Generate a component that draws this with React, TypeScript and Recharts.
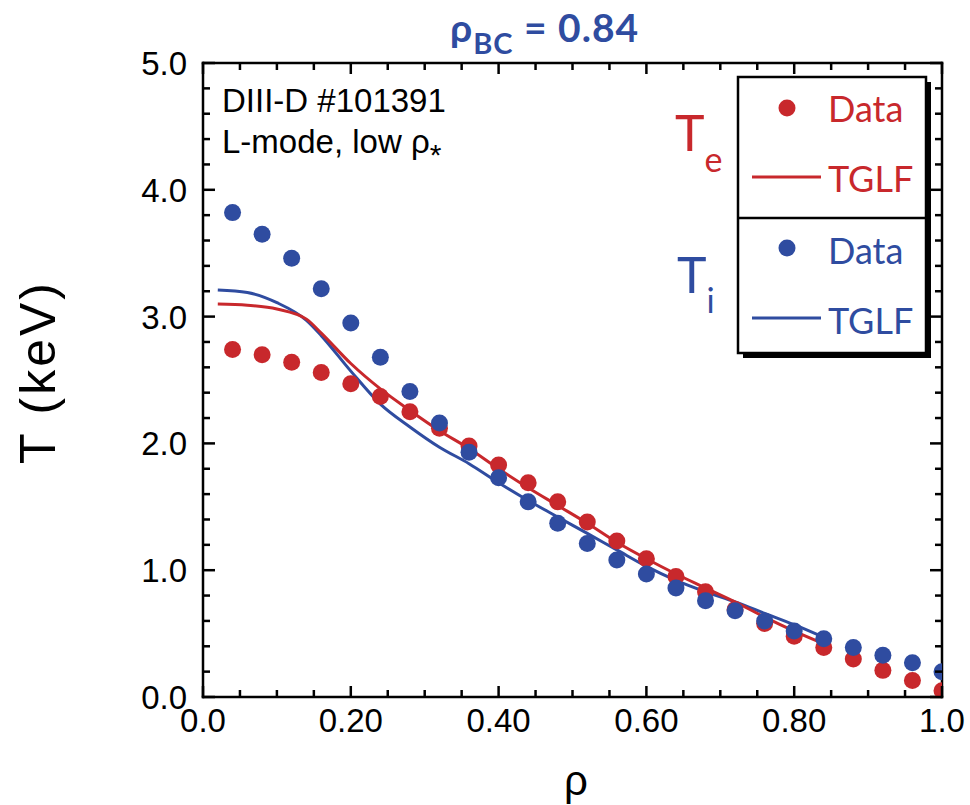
import { ComposedChart, XAxis, YAxis, Line, Scatter } from "recharts";

const RED = "#c8282c";
const BLUE = "#2f4ca0";
const SANS = "'Liberation Sans', Arial, Helvetica, sans-serif";
const HUM = "Lato, 'Open Sans', sans-serif";

// measured profiles
const rhoData = [0.04, 0.08, 0.12, 0.16, 0.2, 0.24, 0.28, 0.32, 0.36, 0.4, 0.44, 0.48, 0.52, 0.56, 0.6, 0.64, 0.68, 0.72, 0.76, 0.8, 0.84, 0.88, 0.92, 0.96, 1.0];
const teData = [2.74, 2.7, 2.64, 2.56, 2.47, 2.37, 2.25, 2.12, 1.98, 1.83, 1.69, 1.54, 1.38, 1.23, 1.09, 0.95, 0.83, 0.69, 0.58, 0.48, 0.39, 0.3, 0.21, 0.13, 0.05];
const tiData = [3.82, 3.65, 3.46, 3.22, 2.95, 2.68, 2.41, 2.16, 1.93, 1.73, 1.54, 1.37, 1.21, 1.08, 0.97, 0.86, 0.76, 0.68, 0.6, 0.52, 0.46, 0.39, 0.33, 0.27, 0.2];

// TGLF predictions (inside rho_BC)
const rhoTglf = [0.02, 0.06, 0.1, 0.14, 0.16, 0.2, 0.24, 0.28, 0.32, 0.36, 0.4, 0.44, 0.48, 0.52, 0.56, 0.6, 0.64, 0.68, 0.72, 0.76, 0.8, 0.84];
const teTglf = [3.1, 3.09, 3.06, 2.98, 2.87, 2.63, 2.43, 2.26, 2.1, 1.96, 1.8, 1.65, 1.51, 1.37, 1.22, 1.09, 0.97, 0.86, 0.75, 0.63, 0.52, 0.42];
const tiTglf = [3.21, 3.19, 3.11, 2.97, 2.85, 2.57, 2.31, 2.13, 1.97, 1.84, 1.69, 1.55, 1.42, 1.29, 1.16, 1.03, 0.92, 0.83, 0.75, 0.66, 0.57, 0.47];

const xTicks = [0, 0.05, 0.1, 0.15, 0.2, 0.25, 0.3, 0.35, 0.4, 0.45, 0.5, 0.55, 0.6, 0.65, 0.7, 0.75, 0.8, 0.85, 0.9, 0.95, 1.0];
const yTicks = [0, 0.2, 0.4, 0.6, 0.8, 1, 1.2, 1.4, 1.6, 1.8, 2, 2.2, 2.4, 2.6, 2.8, 3, 3.2, 3.4, 3.6, 3.8, 4, 4.2, 4.4, 4.6, 4.8, 5];

const rows = (xs: number[], ys: number[]) => xs.map((rho, i) => ({ rho, t: ys[i] }));
const teRows = rows(rhoData, teData);
const tiRows = rows(rhoData, tiData);
const teTglfRows = rows(rhoTglf, teTglf);
const tiTglfRows = rows(rhoTglf, tiTglf);

const isMajorX = (v: number) => Math.round(v * 100) % 20 === 0;
const isMajorY = (v: number) => Math.round(v * 10) % 10 === 0;
const fmtX = (v: number) => (v === 0 || v === 1 ? v.toFixed(1) : v.toFixed(2));

const BottomTick = (p: any) => {
  const v = p.payload.value;
  const major = isMajorX(v);
  return (
    <g>
      <line x1={p.x} x2={p.x} y1={p.y} y2={p.y - (major ? 11 : 7)} stroke="#000" strokeWidth={2.5} />
      {major && (
        <text x={p.x} y={p.y + 35} textAnchor="middle" fontSize={33} fontFamily={SANS} fill="#000">
          {fmtX(v)}
        </text>
      )}
    </g>
  );
};

const TopTick = (p: any) => {
  const major = isMajorX(p.payload.value);
  return <line x1={p.x} x2={p.x} y1={p.y} y2={p.y + (major ? 11 : 7)} stroke="#000" strokeWidth={2.5} />;
};

const LeftTick = (p: any) => {
  const v = p.payload.value;
  const major = isMajorY(v);
  return (
    <g>
      <line x1={p.x} x2={p.x + (major ? 12 : 7)} y1={p.y} y2={p.y} stroke="#000" strokeWidth={2.5} />
      {major && (
        <text x={p.x - 16} y={p.y + 12} textAnchor="end" fontSize={33} fontFamily={SANS} fill="#000">
          {v.toFixed(1)}
        </text>
      )}
    </g>
  );
};

const RightTick = (p: any) => {
  const major = isMajorY(p.payload.value);
  return <line x1={p.x} x2={p.x - (major ? 12 : 7)} y1={p.y} y2={p.y} stroke="#000" strokeWidth={2.5} />;
};

const dot = (color: string) => (p: any) => <circle cx={p.cx} cy={p.cy} r={8.5} fill={color} />;

const axisLine = { stroke: "#000", strokeWidth: 2.5, strokeLinecap: "square" as const };

export default function App() {
  return (
    <div style={{ position: "fixed", left: 0, top: 0, width: 970, height: 805, background: "#fff" }}>
      <ComposedChart width={970} height={805} margin={{ top: 62, right: 27, bottom: 107, left: 202 }}>
        <XAxis dataKey="rho" type="number" domain={[0, 1]} ticks={xTicks} interval={0} allowDataOverflow
          height={1} tickSize={0} tickMargin={0} tickLine={false} axisLine={axisLine} tick={<BottomTick />} />
        <XAxis xAxisId="top" orientation="top" dataKey="rho" type="number" domain={[0, 1]} ticks={xTicks} interval={0}
          allowDataOverflow height={1} tickSize={0} tickMargin={0} tickLine={false} axisLine={axisLine} tick={<TopTick />} />
        <YAxis type="number" domain={[0, 5]} ticks={yTicks} interval={0} allowDataOverflow
          width={1} tickSize={0} tickMargin={0} tickLine={false} axisLine={axisLine} tick={<LeftTick />} />
        <YAxis yAxisId="right" orientation="right" type="number" domain={[0, 5]} ticks={yTicks} interval={0}
          allowDataOverflow width={1} tickSize={0} tickMargin={0} tickLine={false} axisLine={axisLine} tick={<RightTick />} />

        <Line data={tiTglfRows} dataKey="t" type="monotone" stroke={BLUE} strokeWidth={3} dot={false} isAnimationActive={false} />
        <Line data={teTglfRows} dataKey="t" type="monotone" stroke={RED} strokeWidth={3} dot={false} isAnimationActive={false} />
        <Scatter data={teRows} dataKey="t" shape={dot(RED)} isAnimationActive={false} />
        <Scatter data={tiRows} dataKey="t" shape={dot(BLUE)} isAnimationActive={false} />

        {/* title */}
        <text x={450} y={42} fontFamily={HUM} fontWeight={700} fill={BLUE} letterSpacing={1}>
          <tspan fontSize={39}>ρ</tspan>
          <tspan fontSize={29} dy={12}>BC</tspan>
          <tspan fontSize={39} dy={-12}> = 0.84</tspan>
        </text>

        {/* axis titles */}
        <text transform="translate(38,372) rotate(-90)" textAnchor="middle" dominantBaseline="central"
          fontSize={50} letterSpacing={3} fontFamily={SANS} fill="#000">T (keV)</text>
        <text x={576} y={795} textAnchor="middle" fontSize={42} fontFamily={SANS} fill="#000">ρ</text>

        {/* shot annotation */}
        <text x={222} y={112} fontSize={33} fontFamily={SANS} fill="#000">DIII-D #101391</text>
        <text x={222} y={153} fontSize={33} fontFamily={SANS} fill="#000">
          L-mode, low ρ<tspan fontSize={30} dy={12}>*</tspan>
        </text>

        {/* species labels */}
        <text x={675} y={151} fontFamily={HUM} fill={RED}>
          <tspan fontSize={50}>T</tspan>
          <tspan fontSize={34} dy={21}>e</tspan>
        </text>
        <text x={677} y={293} fontFamily={HUM} fill={BLUE}>
          <tspan fontSize={50}>T</tspan>
          <tspan fontSize={34} dy={20}>i</tspan>
        </text>

        {/* legend box */}
        <g transform="translate(738,77)" fontFamily={HUM}>
          <rect x={5} y={5} width={188} height={276} fill="#000" />
          <rect x={0} y={0} width={188} height={276} fill="#fff" stroke="#000" strokeWidth={2.5} />
          <line x1={0} x2={188} y1={141} y2={141} stroke="#000" strokeWidth={2.5} />
          <circle cx={49} cy={31} r={8.5} fill={RED} />
          <text x={90} y={45} fontSize={36} fill={RED}>Data</text>
          <line x1={14} x2={83} y1={100} y2={100} stroke={RED} strokeWidth={3} />
          <text x={90} y={115} fontSize={36} fill={RED}>TGLF</text>
          <circle cx={49} cy={171} r={8.5} fill={BLUE} />
          <text x={90} y={187} fontSize={36} fill={BLUE}>Data</text>
          <line x1={14} x2={83} y1={241} y2={241} stroke={BLUE} strokeWidth={3} />
          <text x={90} y={257} fontSize={36} fill={BLUE}>TGLF</text>
        </g>
      </ComposedChart>
    </div>
  );
}
